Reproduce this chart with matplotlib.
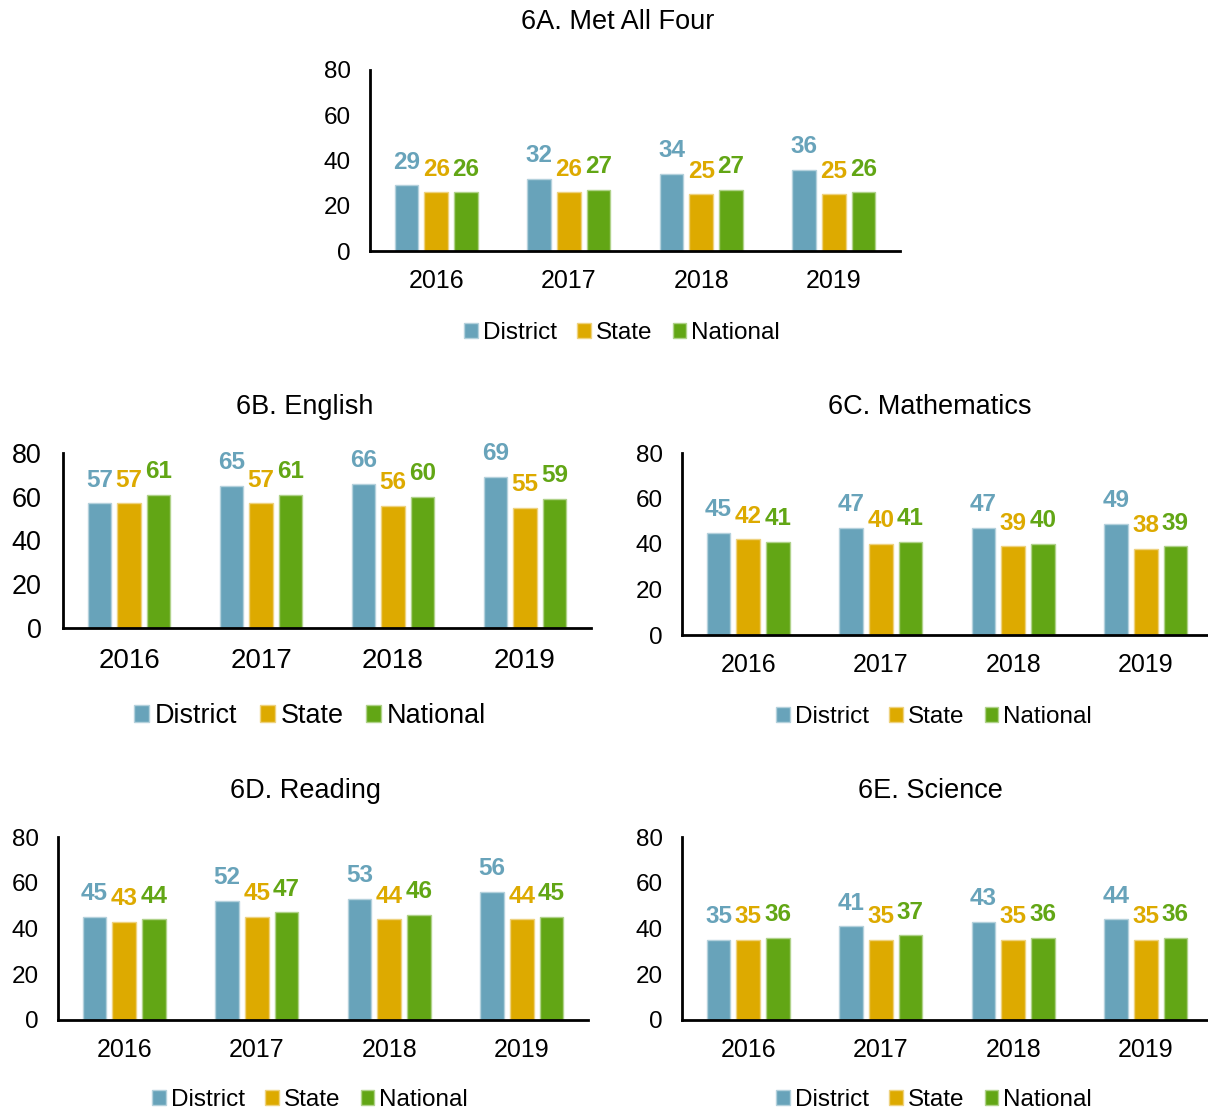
import numpy as np
import matplotlib
matplotlib.use("Agg")
import matplotlib.pyplot as plt

plt.rcParams['font.family'] = ['Liberation Sans', 'DejaVu Sans']

# -------------------------
# DATOS
# -------------------------
years = ['2016', '2017', '2018', '2019']
series = ['District', 'State', 'National']
colors = ['#68a3ba', '#ddaa00', '#62a615']
edge_colors = ['#b4d1dc', '#eed27f', '#b0d28a']

all_four_district = [29, 32, 34, 36]
all_four_state = [26, 26, 25, 25]
all_four_national = [26, 27, 27, 26]

english_district = [57, 65, 66, 69]
english_state = [57, 57, 56, 55]
english_national = [61, 61, 60, 59]

math_district = [45, 47, 47, 49]
math_state = [42, 40, 39, 38]
math_national = [41, 41, 40, 39]

reading_district = [45, 52, 53, 56]
reading_state = [43, 45, 44, 44]
reading_national = [44, 47, 46, 45]

science_district = [35, 41, 43, 44]
science_state = [35, 35, 35, 35]
science_national = [36, 37, 36, 36]

W, H = 1208, 1111
fig = plt.figure(figsize=(W / 100, H / 100), dpi=100)


def panel(box, title, title_xy, legend_xy, valores, scale=1.0, xpad=13):
    """box = (izq, der, arriba, abajo) en pixeles"""
    l, r, t, b = box
    ax = fig.add_axes([l / W, 1 - b / H, (r - l) / W, (b - t) / H])
    x = np.arange(len(years))
    offset = 0.224
    width = 0.178
    handles = []
    for i, (vals, c, ec) in enumerate(zip(valores, colors, edge_colors)):
        pos = x + (i - 1) * offset
        bars = ax.bar(pos, vals, width, color=c, edgecolor=ec, linewidth=1.0,
                      label=series[i], zorder=2)
        handles.append(bars)
        for p, v in zip(pos, vals):
            ax.annotate(str(v), (p, v), xytext=(0, 12), textcoords='offset points',
                        ha='center', va='baseline', color=c, fontsize=17.5,
                        fontweight='bold')
    ax.set_xlim(-0.5, 3.5)
    ax.set_ylim(0, 80)
    ax.set_yticks([0, 20, 40, 60, 80])
    ax.set_xticks(x, years)
    ax.tick_params(axis='y', length=0, pad=14 * scale, labelsize=17.5 * scale)
    ax.tick_params(axis='x', length=0, pad=xpad, labelsize=18 * scale)
    for s in ['top', 'right']:
        ax.spines[s].set_visible(False)
    for s in ['left', 'bottom']:
        ax.spines[s].set_linewidth(2)
        ax.spines[s].set_color('black')
    fig.text(title_xy[0] / W, 1 - title_xy[1] / H, title, ha='center', va='center',
             fontsize=19.5)
    fig.legend(handles=handles, labels=series, loc='center',
               bbox_to_anchor=(legend_xy[0] / W, 1 - legend_xy[1] / H),
               bbox_transform=fig.transFigure, ncol=3, frameon=False,
               fontsize=17.5 * scale, handlelength=0.55, handleheight=0.55,
               handletextpad=0.2, columnspacing=0.85, borderpad=0)
    return ax


panel((370, 900, 70, 251), '6A. Met All Four', (618, 22), (622, 333),
      [all_four_district, all_four_state, all_four_national])
panel((63, 591, 453, 628), '6B. English', (305, 407), (310, 716),
      [english_district, english_state, english_national], scale=1.11, xpad=14.5)
panel((682, 1212, 453, 635), '6C. Mathematics', (930, 407), (934, 717),
      [math_district, math_state, math_national])
panel((58, 588, 837, 1020), '6D. Reading', (306, 791), (310, 1100),
      [reading_district, reading_state, reading_national])
panel((682, 1212, 837, 1020), '6E. Science', (930, 791), (934, 1100),
      [science_district, science_state, science_national])

fig.savefig('out.png', dpi=100)
